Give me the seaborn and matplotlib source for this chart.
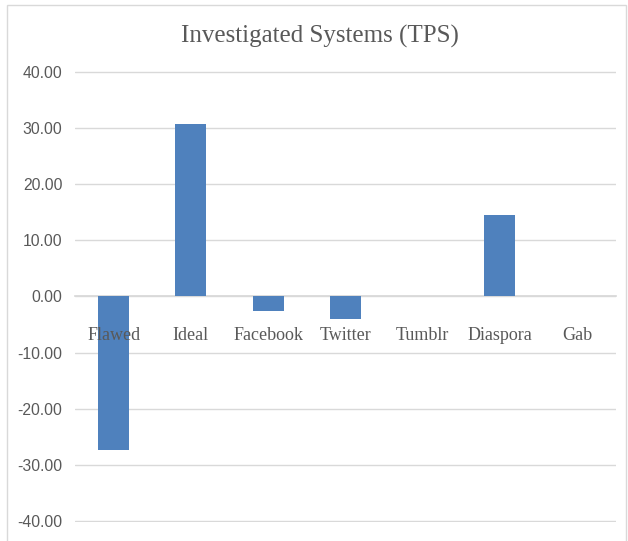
import matplotlib
matplotlib.use("Agg")
import matplotlib.pyplot as plt
import seaborn as sns
import pandas as pd
from matplotlib.patches import Rectangle
from matplotlib.ticker import FuncFormatter

categories = ["Flawed", "Ideal", "Facebook", "Twitter", "Tumblr", "Diaspora", "Gab"]
values = [-27.3, 30.7, -2.6, -4.0, 0.0, 14.5, 0.0]
yticks = [-40, -30, -20, -10, 0, 10, 20, 30, 40]
title = "Investigated Systems (TPS)"

df = pd.DataFrame({"System": categories, "TPS": values})

sns.set_theme(style="white")
fig = plt.figure(figsize=(6.28, 5.41), dpi=100)
ax = fig.add_axes([0.1194, 0.035, 0.861, 0.834])

sns.barplot(data=df, x="System", y="TPS", color="#4F81BD", width=0.4,
            saturation=1, ax=ax, zorder=3, linewidth=0)

ax.set_ylim(-40.2, 40.2)
ax.set_yticks(yticks)
ax.yaxis.set_major_formatter(FuncFormatter(lambda v, p: f"{v:.2f}"))
ax.grid(axis="y", color="#D9D9D9", linewidth=1, zorder=0)
ax.set_axisbelow(True)
for s in ["top", "right", "left"]:
    ax.spines[s].set_visible(False)
ax.spines["bottom"].set_position(("data", 0))
ax.spines["bottom"].set_color("#D9D9D9")
ax.spines["bottom"].set_zorder(1)
ax.xaxis.set_zorder(5)
ax.tick_params(axis="x", length=0, pad=22, labelsize=13, labelcolor="#595959")
ax.tick_params(axis="y", length=0, pad=9, labelsize=11.3, labelcolor="#595959")
for lbl in ax.get_xticklabels():
    lbl.set_fontfamily("Liberation Serif")
for lbl in ax.get_yticklabels():
    lbl.set_fontfamily("Liberation Sans")
ax.set_xlabel("")
ax.set_ylabel("")

fig.text(320 / 628, 1 - 36 / 541, title, ha="center", va="center",
         fontsize=18, color="#595959", family="Liberation Serif")

fig.patches.append(Rectangle((7 / 628, -0.02), (626 - 7) / 628, 0.9908 + 0.02,
                             transform=fig.transFigure, fill=False,
                             edgecolor="#D9D9D9", linewidth=1))

fig.savefig("out.png", dpi=100)
